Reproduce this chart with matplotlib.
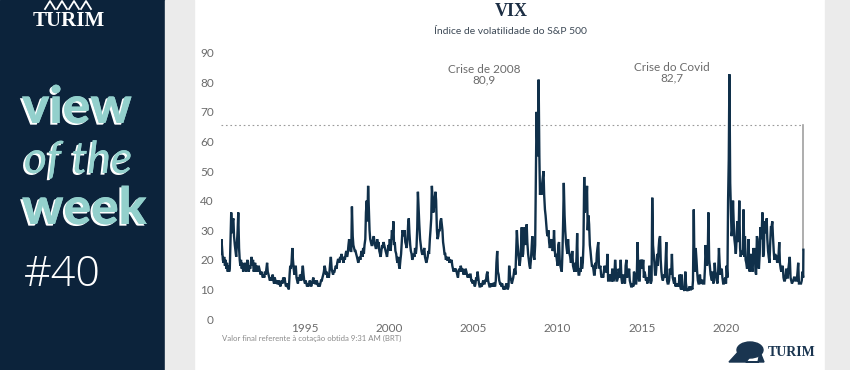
import matplotlib
matplotlib.use("Agg")
import matplotlib.pyplot as plt
import matplotlib.patheffects as pe
from matplotlib.patches import Rectangle, Polygon, Ellipse
import pandas as pd

# ---------------- data (semi-monthly readings, 1st & 15th of each month) ----------------
vix_1990 = [22, 27, 23, 20, 19, 21, 18, 20, 17, 19, 16, 18, 16, 17, 28, 36, 29, 33, 34, 28, 25, 23, 21, 25]
vix_1991 = [30, 36, 24, 20, 18, 20, 17, 19, 16, 18, 17, 19, 16, 17, 20, 17, 16, 18, 17, 19, 21, 18, 20, 16]
vix_1992 = [17, 19, 16, 18, 17, 16, 18, 17, 16, 15, 16, 15, 14, 15, 14, 16, 15, 17, 19, 16, 15, 14, 13, 14]
vix_1993 = [13, 14, 15, 13, 12, 14, 13, 12, 13, 12, 12, 13, 12, 11, 12, 13, 12, 14, 13, 14, 12, 11, 12, 11]
vix_1994 = [11, 10, 15, 18, 17, 19, 24, 20, 17, 15, 16, 18, 14, 13, 12, 14, 13, 15, 14, 13, 16, 18, 15, 13]
vix_1995 = [12, 13, 12, 11, 12, 11, 12, 13, 12, 11, 12, 13, 14, 12, 13, 12, 12, 13, 12, 11, 12, 11, 12, 13]
vix_1996 = [13, 14, 15, 16, 18, 17, 15, 16, 14, 15, 14, 16, 19, 21, 17, 16, 15, 16, 16, 17, 18, 17, 19, 20]
vix_1997 = [20, 19, 21, 20, 22, 21, 20, 19, 21, 20, 22, 23, 21, 22, 25, 27, 24, 23, 23, 38, 28, 25, 24, 23]
vix_1998 = [23, 22, 21, 20, 19, 20, 21, 20, 22, 23, 21, 24, 22, 25, 27, 36, 40, 33, 45, 38, 30, 27, 26, 25]
vix_1999 = [25, 27, 28, 26, 25, 24, 24, 27, 25, 26, 23, 22, 21, 23, 25, 24, 26, 25, 24, 23, 22, 21, 23, 25]
vix_2000 = [24, 27, 23, 26, 30, 27, 33, 25, 26, 23, 22, 20, 19, 21, 18, 17, 20, 22, 26, 30, 29, 28, 30, 26]
vix_2001 = [25, 24, 27, 32, 34, 29, 25, 23, 22, 20, 21, 22, 21, 24, 22, 24, 31, 43, 37, 32, 27, 25, 23, 22]
vix_2002 = [22, 23, 24, 21, 20, 19, 20, 21, 23, 22, 27, 30, 34, 45, 40, 36, 38, 41, 43, 40, 30, 27, 28, 30]
vix_2003 = [30, 33, 34, 32, 30, 26, 24, 22, 22, 20, 21, 20, 20, 21, 19, 20, 19, 20, 18, 17, 16, 17, 16, 17]
vix_2004 = [16, 15, 14, 16, 17, 16, 18, 17, 16, 17, 15, 16, 15, 17, 16, 15, 14, 15, 14, 15, 15, 13, 13, 12]
vix_2005 = [13, 12, 11, 12, 14, 13, 16, 14, 12, 11, 11, 12, 11, 12, 13, 12, 12, 13, 13, 15, 16, 13, 12, 11]
vix_2006 = [11, 12, 11, 12, 11, 12, 12, 11, 13, 19, 23, 16, 15, 13, 12, 12, 11, 12, 11, 10, 11, 10, 11, 12]
vix_2007 = [11, 10, 11, 18, 15, 14, 13, 12, 13, 14, 16, 17, 15, 22, 30, 26, 22, 20, 18, 20, 25, 31, 21, 22]
vix_2008 = [27, 31, 25, 28, 32, 26, 22, 20, 18, 17, 20, 24, 28, 24, 21, 20, 25, 46, 70, 60, 55, 80.9, 55, 42]
vix_2009 = [45, 42, 46, 48, 50, 42, 37, 35, 32, 29, 28, 30, 26, 24, 25, 27, 25, 23, 24, 30, 23, 21, 22, 20]
vix_2010 = [18, 25, 26, 20, 18, 17, 16, 22, 33, 46, 35, 30, 26, 24, 22, 27, 23, 22, 21, 19, 20, 23, 18, 17]
vix_2011 = [16, 19, 16, 21, 29, 18, 15, 15, 17, 16, 21, 17, 19, 25, 48, 36, 42, 38, 45, 30, 35, 32, 25, 23]
vix_2012 = [20, 18, 18, 17, 15, 15, 19, 17, 22, 24, 26, 18, 17, 18, 15, 14, 15, 14, 16, 18, 17, 16, 16, 22]
vix_2013 = [13, 13, 14, 15, 13, 13, 17, 13, 13, 14, 20, 17, 13, 13, 14, 17, 16, 14, 20, 14, 12, 13, 15, 13]
vix_2014 = [12, 18, 20, 14, 16, 15, 17, 13, 12, 11, 11, 12, 11, 16, 15, 12, 12, 15, 26, 17, 13, 13, 20, 19]
vix_2015 = [20, 17, 20, 14, 16, 15, 13, 14, 12, 14, 13, 18, 13, 12, 13, 41, 25, 22, 19, 15, 15, 18, 22, 18]
vix_2016 = [24, 27, 28, 20, 16, 14, 13, 14, 15, 14, 20, 26, 13, 12, 12, 13, 17, 15, 16, 22, 14, 13, 12, 14]
vix_2017 = [11, 12, 11, 12, 11, 12, 15, 11, 10, 15, 10, 11, 10, 9.5, 16, 12, 10, 9.5, 10, 10, 11, 10, 10, 11]
vix_2018 = [10, 13, 37, 19, 16, 24, 20, 16, 13, 12, 12, 15, 12, 13, 13, 12, 12, 12, 17, 25, 20, 18, 21, 36]
vix_2019 = [20, 18, 15, 14, 13, 16, 12, 13, 19, 16, 15, 13, 12, 16, 24, 19, 15, 16, 17, 14, 12, 12, 13, 14]
vix_2020 = [12, 18, 14, 40, 54, 82.7, 46, 38, 28, 30, 40, 33, 27, 25, 22, 26, 33, 26, 29, 40, 24, 21, 23, 22]
vix_2021 = [22, 37, 21, 28, 20, 19, 17, 18, 27, 17, 16, 21, 22, 17, 16, 24, 20, 24, 16, 15, 28, 27, 20, 17]
vix_2022 = [22, 31, 27, 30, 36, 21, 22, 33, 32, 29, 34, 27, 23, 21, 19, 25, 31, 31, 33, 28, 23, 20, 22, 21]
vix_2023 = [21, 19, 20, 22, 26, 19, 17, 16, 17, 18, 14, 13, 13, 14, 17, 14, 14, 17, 19, 21, 14, 13, 12, 12.5]
vix_2024 = [13, 14, 14, 13, 13, 13, 16, 19, 12, 12, 12, 12, 13, 16, 14]
final_date = "2024-08-05"
final_value = 23.4
intraday_peak = 65.7

year_lists = [vix_1990, vix_1991, vix_1992, vix_1993, vix_1994, vix_1995, vix_1996, vix_1997,
              vix_1998, vix_1999, vix_2000, vix_2001, vix_2002, vix_2003, vix_2004, vix_2005,
              vix_2006, vix_2007, vix_2008, vix_2009, vix_2010, vix_2011, vix_2012, vix_2013,
              vix_2014, vix_2015, vix_2016, vix_2017, vix_2018, vix_2019, vix_2020, vix_2021,
              vix_2022, vix_2023, vix_2024]
values = [v for yl in year_lists for v in yl] + [final_value]
dates = list(pd.date_range("1990-01-01", "2024-08-01", freq="SMS")) + [pd.Timestamp(final_date)]
series = pd.Series(values, index=pd.DatetimeIndex(dates))

x_tick_years = [1995, 2000, 2005, 2010, 2015, 2020]
y_ticks = [0, 10, 20, 30, 40, 50, 60, 70, 80, 90]

title = "VIX"
subtitle = "Índice de volatilidade do S&P 500"
note = "Valor final referente à cotação obtida 9:31 AM (BRT)"
ann_2008 = "Crise de 2008\n80,9"
ann_covid = "Crise do Covid\n82,7"

# ---------------- styling ----------------
W, H = 850, 370
NAVY = "#0c233b"
LINE = "#10304a"
TEAL = "#93d0cc"
GRAY_BG = "#ebebeb"
TXT = "#6b6b6b"

def fx(px):
    return px / W

def fy(py):
    return 1 - py / H

fig = plt.figure(figsize=(W / 100, H / 100), dpi=100, facecolor="white")

# background panels
fig.patches.append(Rectangle((0, 0), fx(165), 1, transform=fig.transFigure, color=NAVY, zorder=0))
fig.patches.append(Rectangle((fx(165), 0), fx(194) - fx(165), 1, transform=fig.transFigure, color=GRAY_BG, zorder=0))
fig.patches.append(Rectangle((fx(825), 0), 1 - fx(825), 1, transform=fig.transFigure, color=GRAY_BG, zorder=0))

# ---------------- chart axes ----------------
x0_px, x1_px = 220.8, 806.0
y0_px, y90_px = 319.0, 52.7
ax = fig.add_axes([fx(x0_px), fy(y0_px), (x1_px - x0_px) / W, (y0_px - y90_px) / H])
ax.set_facecolor("none")
ax.plot(series.index, series.values, color=LINE, lw=1.7, solid_joinstyle="miter", zorder=3)

first = series.index[0]
last = series.index[-1]
ax.plot([first, last], [intraday_peak, intraday_peak], color="#9a9a9a", lw=0.8, ls=(0, (1.5, 2.5)), zorder=2)
ax.plot([last, last], [final_value, intraday_peak], color="#a0a0a0", lw=1.2, zorder=2)

ax.set_xlim(pd.Timestamp("1990-01-01"), pd.Timestamp("2024-10-01"))
ax.set_ylim(0, 90)
ax.set_yticks(y_ticks)
ax.set_yticklabels([str(v) for v in y_ticks])
ax.set_xticks([pd.Timestamp(f"{y}-01-01") for y in x_tick_years])
ax.set_xticklabels([str(y) for y in x_tick_years])
for s in ax.spines.values():
    s.set_visible(False)
ax.tick_params(axis="both", length=0, colors=TXT, labelsize=8.5)
ax.tick_params(axis="y", pad=5)
ax.tick_params(axis="x", pad=3)
for lab in ax.get_xticklabels() + ax.get_yticklabels():
    lab.set_fontfamily("Lato")

# annotations
fig.text(fx(484), fy(75), ann_2008, ha="center", va="center", fontsize=8.5, color=TXT,
         family="Lato", linespacing=0.95)
fig.text(fx(672), fy(73), ann_covid, ha="center", va="center", fontsize=8.5, color=TXT,
         family="Lato", linespacing=0.95)

# titles
fig.text(fx(511), fy(12), title, ha="center", va="center", fontsize=13, fontweight="bold",
         family="Liberation Serif", color="#1c2e44")
fig.text(fx(510), fy(32), subtitle, ha="center", va="center", fontsize=7.5, color="#3e4a57",
         family="Lato")
fig.text(fx(222), fy(338), note, ha="left", va="center", fontsize=5.6, color="#8a8a8a",
         family="Lato")

# bottom-right logo
fig.text(fx(816), fy(353), "TURIM", ha="right", va="center", fontsize=10, fontweight="bold",
         family="Liberation Serif", color="#1a3550")
bx, by = 745, 352
body = Ellipse((fx(bx + 5), fy(by - 2)), 26 / W, 16 / H, transform=fig.transFigure, color="#1a3550")
fig.patches.append(body)
legs = Polygon([(fx(729), fy(362)), (fx(740), fy(350)), (fx(752), fy(354)), (fx(746), fy(362)),
                (fx(758), fy(362)), (fx(760), fy(352)), (fx(764), fy(362))],
               closed=True, transform=fig.transFigure, color="#1a3550")
fig.patches.append(legs)

# ---------------- left panel ----------------
fig.text(fx(69), fy(21), "TURIM", ha="center", va="center", fontsize=15, fontweight="bold",
         family="Liberation Serif", color="white")
for cx in (50, 62, 74, 86):
    fig.lines.append(plt.Line2D([fx(cx - 5), fx(cx), fx(cx + 5)], [fy(9), fy(1), fy(9)],
                                transform=fig.transFigure, color="white", lw=1.3))

shadow = [pe.withSimplePatchShadow(offset=(-1.6, -1.2), shadow_rgbFace="white", alpha=1.0),
          pe.Normal()]
fig.text(fx(22), fy(123), "view", ha="left", va="baseline", fontsize=37, fontweight="black",
         family="Lato", color=TEAL, path_effects=shadow)
fig.text(fx(24), fy(173), "of the", ha="left", va="baseline", fontsize=32, style="italic",
         family="Lato", color=TEAL, path_effects=shadow)
fig.text(fx(22), fy(224), "week", ha="left", va="baseline", fontsize=37, fontweight="black",
         family="Lato", color=TEAL, path_effects=shadow)
fig.text(fx(24), fy(286), "#40", ha="left", va="baseline", fontsize=31, fontweight="light",
         family="Open Sans", color="white")

fig.savefig("out.png", dpi=100, facecolor="white")
